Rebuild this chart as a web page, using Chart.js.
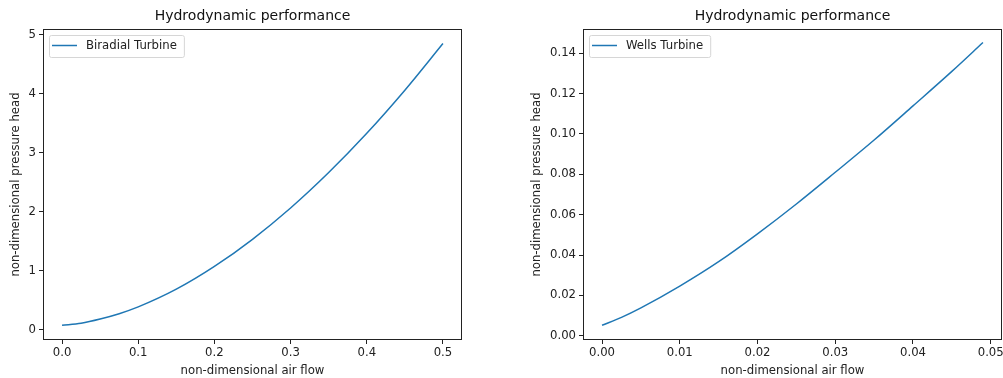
<!DOCTYPE html>
<html>
<head>
<meta charset="utf-8">
<script src="https://cdn.jsdelivr.net/npm/chart.js@4.4.0/dist/chart.umd.min.js"></script>
<style>
    html, body { margin: 0; padding: 0; background: #fff; }
    body { width: 1003px; height: 378px; position: relative; overflow: hidden; }
    .panel { position: absolute; top: 0; height: 378px; }
    #leftPanel { left: 0; width: 480px; }
    #rightPanel { left: 520px; width: 483px; }
</style>
</head>
<body>
<div class="panel" id="leftPanel"><canvas id="biradialChart"></canvas></div>
<div class="panel" id="rightPanel"><canvas id="wellsChart"></canvas></div>
<script>
// values
const biradialFlow = [0, 0.025, 0.05, 0.075, 0.1, 0.15, 0.2, 0.25, 0.3, 0.35, 0.4, 0.45, 0.5];
const biradialHead = [0.079, 0.115, 0.185, 0.275, 0.39, 0.69, 1.075, 1.535, 2.065, 2.665, 3.33, 4.06, 4.85];
const biradialXTicks = [0, 0.1, 0.2, 0.3, 0.4, 0.5];
const biradialYTicks = [0, 1, 2, 3, 4, 5];

const wellsFlow = [0, 0.0025, 0.005, 0.01, 0.015, 0.02, 0.025, 0.03, 0.035, 0.04, 0.045, 0.049];
const wellsHead = [0.0052, 0.0091, 0.0138, 0.0246, 0.0367, 0.0505, 0.0653, 0.081, 0.097, 0.1139, 0.131, 0.1453];
const wellsXTicks = [0, 0.01, 0.02, 0.03, 0.04, 0.05];
const wellsYTicks = [0, 0.02, 0.04, 0.06, 0.08, 0.10, 0.12, 0.14];

const FONT = 'DejaVu Sans';
const TEXT_SIZE = 11.7;
const LINE_COLOR = '#1f77b4';

// box round the plot area, like matplotlib spines
const framePlugin = {
    id: 'frame',
    afterDraw(chart) {
        const { ctx, chartArea: a } = chart;
        ctx.save();
        ctx.strokeStyle = '#222';
        ctx.lineWidth = 1;
        ctx.strokeRect(Math.round(a.left) + 0.5, Math.round(a.top) + 0.5,
            Math.round(a.right - a.left) - 1, Math.round(a.bottom - a.top) - 1);
        ctx.restore();
    }
};

// legend box in the upper left corner of the plot area
const boxLegendPlugin = {
    id: 'boxLegend',
    afterDraw(chart) {
        const { ctx, chartArea: a } = chart;
        const ds = chart.data.datasets[0];
        ctx.save();
        ctx.font = TEXT_SIZE + 'px "' + FONT + '"';
        const textW = ctx.measureText(ds.label).width;
        const x = a.left + 6, y = a.top + 6, h = 22;
        const w = 37 + textW + 7;
        ctx.beginPath();
        ctx.roundRect(x + 0.5, y + 0.5, w, h, 2);
        ctx.fillStyle = 'rgba(255,255,255,0.8)';
        ctx.fill();
        ctx.strokeStyle = '#d6d6d6';
        ctx.lineWidth = 1;
        ctx.stroke();
        ctx.beginPath();
        ctx.moveTo(x + 3, y + 10.5);
        ctx.lineTo(x + 28, y + 10.5);
        ctx.strokeStyle = ds.borderColor;
        ctx.lineWidth = 1.5;
        ctx.stroke();
        ctx.fillStyle = '#222';
        ctx.textBaseline = 'middle';
        ctx.fillText(ds.label, x + 37, y + 11);
        ctx.restore();
    }
};

function makeChart(canvasId, cfg) {
    const ctx = document.getElementById(canvasId).getContext('2d');
    const points = cfg.flow.map((f, i) => ({ x: f, y: cfg.head[i] }));
    return new Chart(ctx, {
        type: 'scatter',
        data: {
            datasets: [{
                label: cfg.label,
                data: points,
                showLine: true,
                borderColor: LINE_COLOR,
                borderWidth: 1.5,
                pointRadius: 0,
                cubicInterpolationMode: 'monotone'
            }]
        },
        options: {
            responsive: true,
            maintainAspectRatio: false,
            animation: false,
            layout: { padding: { left: 0, top: 0, right: cfg.rightPad, bottom: 0 } },
            plugins: {
                legend: { display: false },
                tooltip: { enabled: false },
                title: {
                    display: true,
                    text: 'Hydrodynamic performance',
                    fullSize: false,
                    color: '#111',
                    font: { family: FONT, size: 14, weight: 'normal' },
                    padding: { top: 8, bottom: 4.2 }
                }
            },
            scales: {
                x: {
                    type: 'linear',
                    min: cfg.xMin,
                    max: cfg.xMax,
                    afterBuildTicks: s => { s.ticks = cfg.xTicks.map(v => ({ value: v })); },
                    afterFit: s => { s.height = 38; s.paddingLeft = 0; s.paddingRight = 0; },
                    ticks: {
                        autoSkip: false,
                        maxRotation: 0,
                        padding: 2,
                        color: '#222',
                        font: { family: FONT, size: TEXT_SIZE },
                        callback: v => v.toFixed(cfg.xDigits)
                    },
                    grid: { drawOnChartArea: false, drawTicks: true, tickLength: 4, tickColor: '#222' },
                    border: { display: false },
                    title: {
                        display: true,
                        text: 'non-dimensional air flow',
                        color: '#222',
                        font: { family: FONT, size: TEXT_SIZE },
                        padding: { top: 2, bottom: 0 }
                    }
                },
                y: {
                    type: 'linear',
                    min: cfg.yMin,
                    max: cfg.yMax,
                    afterBuildTicks: s => { s.ticks = cfg.yTicks.map(v => ({ value: v })); },
                    afterFit: s => { s.width = cfg.yAxisWidth; s.paddingTop = 0; s.paddingBottom = 0; },
                    ticks: {
                        autoSkip: false,
                        padding: 3,
                        color: '#222',
                        font: { family: FONT, size: TEXT_SIZE },
                        callback: v => v.toFixed(cfg.yDigits)
                    },
                    grid: { drawOnChartArea: false, drawTicks: true, tickLength: 4, tickColor: '#222' },
                    border: { display: false },
                    title: {
                        display: true,
                        text: 'non-dimensional pressure head',
                        color: '#222',
                        font: { family: FONT, size: TEXT_SIZE },
                        padding: { top: cfg.yTitlePad, bottom: 0 }
                    }
                }
            }
        },
        plugins: [framePlugin, boxLegendPlugin]
    });
}

makeChart('biradialChart', {
    label: 'Biradial Turbine',
    flow: biradialFlow, head: biradialHead,
    xTicks: biradialXTicks, yTicks: biradialYTicks,
    xMin: -0.025, xMax: 0.525, yMin: -0.17, yMax: 5.096,
    xDigits: 1, yDigits: 0,
    yAxisWidth: 43, rightPad: 18, yTitlePad: 9
});

makeChart('wellsChart', {
    label: 'Wells Turbine',
    flow: wellsFlow, head: wellsHead,
    xTicks: wellsXTicks, yTicks: wellsYTicks,
    xMin: -0.00245, xMax: 0.05145, yMin: -0.0021, yMax: 0.152,
    xDigits: 2, yDigits: 2,
    yAxisWidth: 63, rightPad: 1, yTitlePad: 9.7
});
</script>
</body>
</html>
